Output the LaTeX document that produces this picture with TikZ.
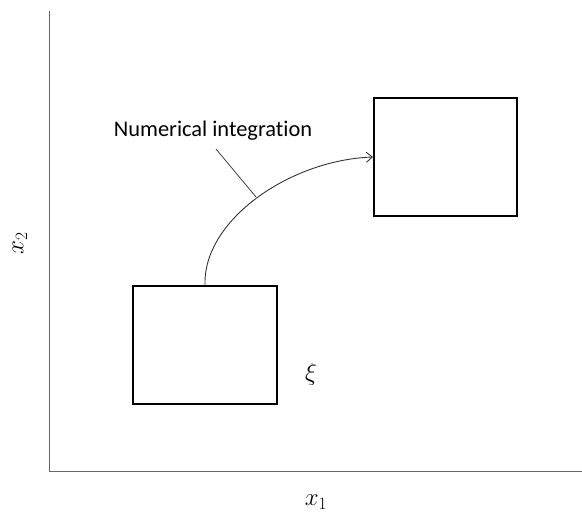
\documentclass[tikz,border=0pt]{standalone}
\usepackage{fontspec}
\setmainfont[RawFeature=-liga]{Carlito}
\usetikzlibrary{arrows.meta}
\begin{document}
\begin{tikzpicture}[x=1pt,y=-1pt,
  axis/.style={draw=gray!80!black,line width=1.7pt},
  region/.style={draw=black,line width=2pt},
  flow/.style={draw=black!80,line width=0.9pt,-{Straight Barb[length=6pt,width=10pt]}},
  leader/.style={draw=black!75,line width=0.8pt},
  mathlbl/.style={font=\fontsize{25}{28}\selectfont}]
\useasboundingbox (0,0) rectangle (582,514);
\coordinate (top) at (49.5,11);
\coordinate (origin) at (49.5,471.5);
\coordinate (right) at (582,471.5);
\draw[axis] (top) -- (origin) -- (right);
\node[region,minimum width=144pt,minimum height=118pt,inner sep=0pt] (A) at (205,345) {};
\node[region,minimum width=143pt,minimum height=118pt,inner sep=0pt] (B) at (445.5,157) {};
\draw[flow] (A.north) .. controls (203,220) and (290,160) .. (B.west);
\node[font=\fontsize{22.4}{26}\selectfont] (lbl) at (213,131) {Numerical integration};
\coordinate (tip) at (256,197);
\draw[leader] (216,149) -- (tip);
\node[mathlbl] (xi) at (311,374) {$\xi$};
\node[mathlbl] (x1) at (316,502) {$x_1$};
\node[mathlbl,rotate=90] (x2) at (20,243) {$x_2$};
\end{tikzpicture}
\end{document}
